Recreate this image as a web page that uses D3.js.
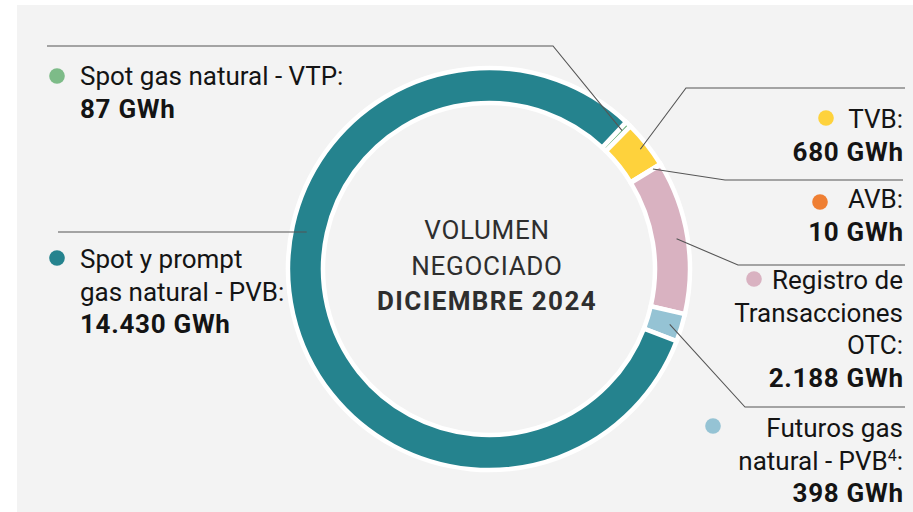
<!DOCTYPE html>
<html><head><meta charset="utf-8">
<script src="https://cdn.jsdelivr.net/npm/d3@7"></script>
<style>
html,body{margin:0;padding:0;background:#fff;}
svg{display:block;font-family:Roboto,"Noto Sans",sans-serif;}
</style></head>
<body>
<svg id="chart" width="913" height="512"></svg>
<script>
const categories = ["Spot gas natural - VTP", "TVB", "AVB", "Registro de Transacciones OTC", "Futuros gas natural - PVB", "Spot y prompt gas natural - PVB"];
const values = [87, 680, 10, 2188, 398, 14430];
const colors = ["#7dbb88", "#fed23c", "#ef7f33", "#d9b2c1", "#95c3d4", "#25838e"];
const labelLines = [
  ["Spot gas natural - VTP:"],
  ["TVB:"],
  ["AVB:"],
  ["Registro de", "Transacciones", "OTC:"],
  ["Futuros gas", "natural - PVB"],
  ["Spot y prompt", "gas natural - PVB:"]
];
const valueLabels = ["87 GWh", "680 GWh", "10 GWh", "2.188 GWh", "398 GWh", "14.430 GWh"];
const centerLines = ["VOLUMEN", "NEGOCIADO", "DICIEMBRE 2024"];

const svg = d3.select("#chart");
svg.append("rect").attr("x",17).attr("y",5).attr("width",896).attr("height",507).attr("fill","#f3f3f3");

const cx = 489, cy = 269;
const rOuter = 201, rInner = 166;
const startDeg = 43;
const pie = d3.pie().sort(null).value(d=>d)
  .startAngle(startDeg*Math.PI/180).endAngle((startDeg+360)*Math.PI/180);
const arcs = pie(values);
const arc = d3.arc().innerRadius(rInner).outerRadius(rOuter);
const g = svg.append("g").attr("transform",`translate(${cx},${cy})`);
g.selectAll("path").data(arcs).join("path")
  .attr("d",arc).attr("fill",(d,i)=>colors[i])
  .attr("stroke","#fff").attr("stroke-width",4.5).attr("stroke-linejoin","miter");

// leader lines
function pt(a, r){ const m=(a.startAngle+a.endAngle)/2; return [cx+Math.sin(m)*r, cy-Math.cos(m)*r]; }
const lineG = svg.append("g").attr("fill","none").attr("stroke","#555").attr("stroke-width",1.1);
const leaders = [
  {i:0, r:192, elbow:[553,46], end:[47,46]},
  {i:1, r:193, elbow:[686,88], end:[905,88]},
  {i:2, r:192, elbow:[725,180], end:[903,180]},
  {i:3, r:190, elbow:[738,265], end:[905,265]},
  {i:4, r:189, elbow:[745,407], end:[905,407]}
];
leaders.forEach(l=>{
  const s = pt(arcs[l.i], l.r);
  lineG.append("path").attr("d", d3.line()([s, l.elbow, l.end]));
});
// PVB horizontal leader
{
  const y = 232, r = 186;
  const x = cx - Math.sqrt(r*r - (y-cy)*(y-cy));
  lineG.append("path").attr("d", d3.line()([[58,y],[x,y]]));
}

const fs = 26, lh = 32.5;
// label layout: anchor, x, first baseline, dot x, dot y
const pos = [
  {a:"start", x:80,  y:85,  dx:57,  dy:76},
  {a:"end",   x:903, y:128, dx:826, dy:118},
  {a:"end",   x:903, y:208, dx:820, dy:202},
  {a:"end",   x:903, y:289, dx:754, dy:279},
  {a:"end",   x:903, y:437, dx:713, dy:426},
  {a:"start", x:80,  y:268, dx:57,  dy:258}
];
pos.forEach((p,i)=>{
  const tg = svg.append("g");
  labelLines[i].forEach((ln,k)=>{
    const t = tg.append("text").attr("x",p.x).attr("y",p.y+k*lh).attr("text-anchor",p.a)
      .attr("font-size",fs).attr("fill","#141414").text(ln);
    if(i===4 && k===1){
      t.append("tspan").attr("font-size",16).attr("dy",-9).text("4");
      t.append("tspan").attr("dy",9).text(":");
    }
  });
  tg.append("text").attr("x",p.a==="end"?p.x+0.7:p.x).attr("y",p.y+labelLines[i].length*lh).attr("text-anchor",p.a)
    .attr("font-size",fs).attr("font-weight","bold").attr("letter-spacing",0.7).attr("fill","#141414").text(valueLabels[i]);
  tg.append("circle").attr("cx",p.dx).attr("cy",p.dy).attr("r",7.8).attr("fill",colors[i]);
});

// center text
const cBase = [239, 275, 310];
centerLines.forEach((t,k)=>{
  svg.append("text").attr("x",487).attr("y",cBase[k]).attr("text-anchor","middle")
    .attr("font-size",fs).attr("fill","#2e2e2e")
    .attr("letter-spacing", k===2?1.4:0.7)
    .attr("font-weight",k===2?"bold":"normal").text(t);
});
</script>
</body></html>
